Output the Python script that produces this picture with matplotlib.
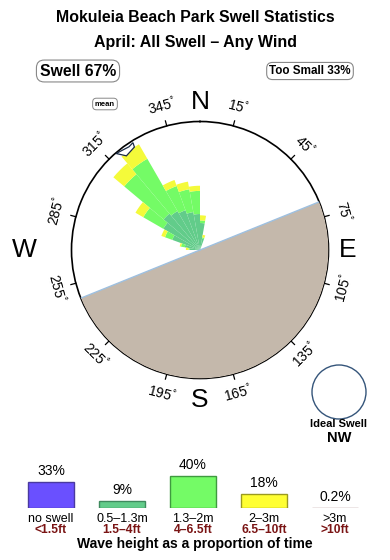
import numpy as np
import matplotlib
matplotlib.use("Agg")
import matplotlib.pyplot as plt
from matplotlib.patches import Ellipse

plt.rcParams["font.family"] = ["Liberation Sans", "DejaVu Sans"]
plt.rcParams["mathtext.fontset"] = "custom"
plt.rcParams["mathtext.rm"] = "Liberation Sans"

W_PX, H_PX = 390, 560

# swell rose: direction bins (deg, centre) and outer radius of each band (% of circle radius)
directions = [275, 285, 295, 305, 315, 325, 335, 345, 355, 5, 15]
r_small = [8, 12, 23, 33, 37, 35, 33, 30, 28, 21, 9]    # 0.5-1.3m
r_mid = [9, 15, 29, 51, 77, 82, 53, 48, 46, 23, 10]     # 1.3-2m
r_big = [11, 16, 32, 58, 88, 95, 58, 54, 50, 27, 12]    # 2-3m
bin_width = 10
land_from, land_to = 68, 248
mean_dir = 323

# legend: share of time per wave height class
classes = ["no swell", "0.5\u20131.3m", "1.3\u20132m", "2\u20133m", ">3m"]
feet = ["<1.5ft", "1.5\u20134ft", "4\u20136.5ft", "6.5\u201310ft", ">10ft"]
shares = [33, 9, 40, 18, 0.2]
share_labels = ["33%", "9%", "40%", "18%", "0.2%"]
fills = ["#6a50ff", "#62cc8a", "#74fb66", "#ffff33", "#c8a0a0"]
edges = ["#4a3aa0", "#3f8a5e", "#3f9a3f", "#9a9a20", "#a88484"]

C_SMALL, C_MID, C_BIG = "#62cc8a", "#74fb66", "#f4fa3a"
LAND = "#c4b8ab"


def fx(x):
    return x / W_PX


def fy(y):
    return 1 - y / H_PX


fig = plt.figure(figsize=(3.9, 5.6), dpi=100)

fig.text(fx(195), fy(18), "Mokuleia Beach Park Swell Statistics", ha="center", va="center",
         fontsize=11.4, fontweight="bold")
fig.text(fx(195), fy(42), "April: All Swell \u2013 Any Wind", ha="center", va="center",
         fontsize=11.5, fontweight="bold")
box = dict(boxstyle="round,pad=0.22,rounding_size=0.5", fc="white", ec="#888888", lw=0.8)
fig.text(fx(78), fy(71), "Swell 67%", ha="center", va="center", fontsize=11.3, fontweight="bold", bbox=box)
fig.text(fx(310), fy(71), "Too Small 33%", ha="center", va="center", fontsize=8.4, fontweight="bold", bbox=box)
fig.text(fx(105), fy(104), "mean", ha="center", va="center", fontsize=5.5, fontweight="bold",
         bbox=dict(boxstyle="round,pad=0.3,rounding_size=0.5", fc="white", ec="#888888", lw=0.7))

# rose
cx, cy, R = 200, 250, 128.5
ax = fig.add_axes([fx(cx - R), fy(cy + R), 2 * R / W_PX, 2 * R / H_PX], projection="polar")
ax.set_theta_zero_location("N")
ax.set_theta_direction(-1)
ax.set_ylim(0, 100)
ax.set_xticks([])
ax.set_yticks([])
ax.grid(False)
ax.spines["polar"].set_linewidth(1.2)

theta = np.deg2rad(directions)
width = np.deg2rad(bin_width)
r_small = np.array(r_small, float)
r_mid = np.array(r_mid, float)
r_big = np.array(r_big, float)
ax.bar(theta, r_small, width=width, color=C_SMALL, linewidth=0, zorder=3)
ax.bar(theta, r_mid - r_small, width=width, bottom=r_small, color=C_MID, linewidth=0, zorder=3)
ax.bar(theta, r_big - r_mid, width=width, bottom=r_mid, color=C_BIG, linewidth=0, zorder=3)

arc = np.deg2rad(np.linspace(land_from, land_to, 200))
ax.fill(np.concatenate([arc, arc[[-1, 0]]]), np.concatenate([np.full(200, 100), [0, 0]]),
        color=LAND, lw=0, zorder=4)
for d in (land_from, land_to):
    ax.plot([np.deg2rad(d)] * 2, [0, 100], color="#9ec0e0", lw=1, zorder=5)

# mean direction marker
arrow_t = np.deg2rad(np.array([mean_dir - 4, mean_dir - 1, mean_dir + 4.5, mean_dir + 5, mean_dir + 2.5, mean_dir - 4]))
arrow_r = np.array([99.5, 93, 95, 98.5, 97.5, 99.5])
ax.fill(arrow_t, arrow_r, fc="white", ec="#1a2a44", lw=0.9, zorder=6)

for b in range(15, 360, 30):
    t = np.deg2rad(b)
    ax.plot([t, t], [100, 104], color="black", lw=0.9, clip_on=False)
    rot = 180 - b if 90 < b < 270 else -b
    ax.text(t, 115.5, "%d$^{\\mathrm{\u00b0}}$" % b, ha="center", va="center", rotation=rot,
            rotation_mode="anchor", fontsize=10)

for name, b, rr in (("N", 0, 115), ("E", 90, 115), ("S", 180, 117), ("W", 270, 137)):
    ax.text(np.deg2rad(b), rr, name, ha="center", va="center", fontsize=19)

# ideal swell
fig.patches.append(Ellipse((fx(339), fy(392)), 54 / W_PX, 54 / H_PX, transform=fig.transFigure,
                           fc="none", ec="#35557a", lw=1))
fig.text(fx(339), fy(424), "Ideal Swell", ha="center", va="center", fontsize=8, fontweight="bold")
fig.text(fx(339), fy(438), "NW", ha="center", va="center", fontsize=10.5, fontweight="bold")

# legend bars
lx = fig.add_axes([fx(15.5), fy(508.3), 355 / W_PX, 48 / H_PX])
xs = np.arange(len(classes))
lx.bar(xs, shares, width=0.634, color=fills, edgecolor=edges, linewidth=1)
lx.set_xlim(-0.5, len(classes) - 0.5)
lx.set_ylim(0, 60)
lx.axis("off")
for x, s, lab, cl, ft in zip(xs, shares, share_labels, classes, feet):
    lx.annotate(lab, (x, s), xytext=(0, 3), textcoords="offset points", ha="center", va="bottom",
                fontsize=10)
    lx.annotate(cl, (x, 0), xytext=(0, -7.5), textcoords="offset points", ha="center", va="center",
                fontsize=9)
    lx.annotate(ft, (x, 0), xytext=(0, -15.3), textcoords="offset points", ha="center", va="center",
                fontsize=8.7, fontweight="bold", color="#7a1414")
fig.text(fx(195), fy(544), "Wave height as a proportion of time", ha="center", va="center",
         fontsize=10, fontweight="bold")

fig.savefig("out.png", dpi=100)
